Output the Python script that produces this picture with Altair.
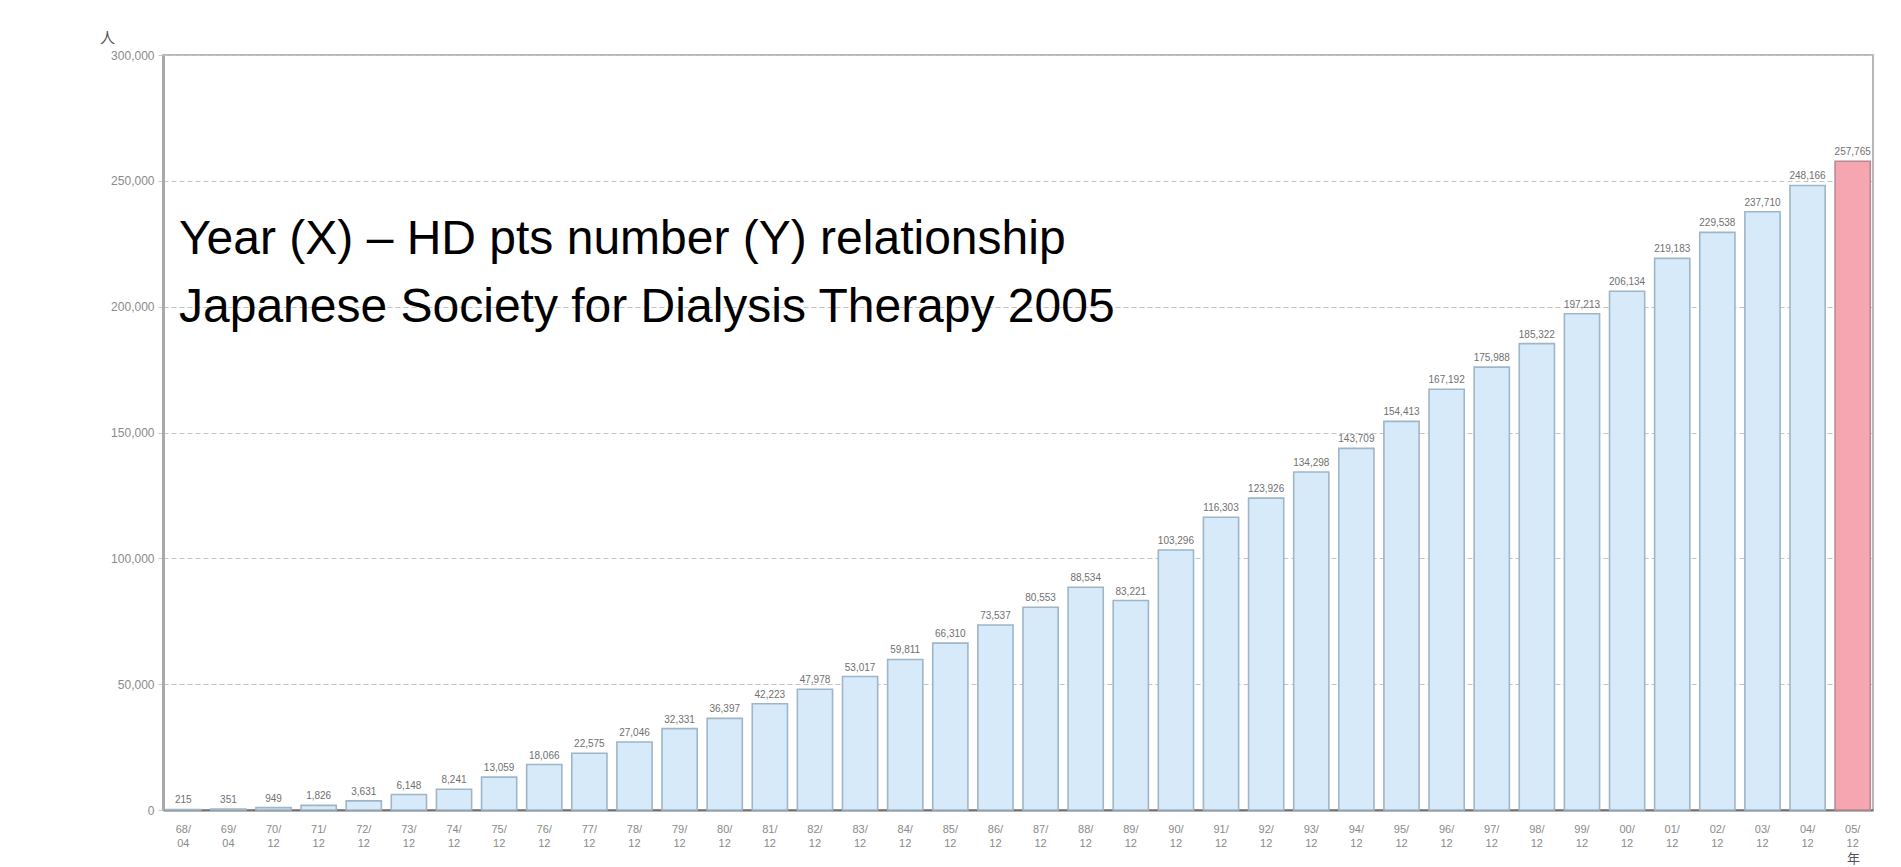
import altair as alt
import pandas as pd

# ---- data ----
years = ["68/04", "69/04", "70/12", "71/12", "72/12", "73/12", "74/12", "75/12",
         "76/12", "77/12", "78/12", "79/12", "80/12", "81/12", "82/12", "83/12",
         "84/12", "85/12", "86/12", "87/12", "88/12", "89/12", "90/12", "91/12",
         "92/12", "93/12", "94/12", "95/12", "96/12", "97/12", "98/12", "99/12",
         "00/12", "01/12", "02/12", "03/12", "04/12", "05/12"]
patients = [215, 351, 949, 1826, 3631, 6148, 8241, 13059,
            18066, 22575, 27046, 32331, 36397, 42223, 47978, 53017,
            59811, 66310, 73537, 80553, 88534, 83221, 103296, 116303,
            123926, 134298, 143709, 154413, 167192, 175988, 185322, 197213,
            206134, 219183, 229538, 237710, 248166, 257765]
highlight = ["no"] * 37 + ["yes"]
title_lines = ["Year (X) \u2013 HD pts number (Y) relationship",
               "Japanese Society for Dialysis Therapy 2005"]
y_ticks = [0, 50000, 100000, 150000, 200000, 250000, 300000]

df = pd.DataFrame({"year": years, "patients": patients, "hl": highlight})

x_enc = alt.X("year:N", sort=years,
              scale=alt.Scale(paddingInner=0.22, paddingOuter=0.06),
              axis=alt.Axis(title="年", titleAngle=0, titleX=1690, titleY=48,
                            titleFontSize=13, titleFontWeight="normal", titleColor="#555",
                            titleFont="Noto Sans CJK JP", titleBaseline="middle",
                            labelAngle=0, labelFontSize=11, labelColor="#8a8a8a",
                            labelFont="Liberation Sans",
                            labelLineHeight=14, labelPadding=13,
                            labelExpr="[split(datum.label, '/')[0] + '/', split(datum.label, '/')[1]]",
                            ticks=False, domainColor="#6e6e6e", domainWidth=2, grid=False))

y_enc = alt.Y("patients:Q",
              scale=alt.Scale(domain=[0, 300000], nice=False),
              axis=alt.Axis(values=y_ticks, format=",d", title="人", titleAngle=0,
                            titleX=-56, titleY=-18, titleFontSize=15,
                            titleFontWeight="normal", titleColor="#555",
                            titleFont="Noto Sans CJK JP",
                            titleAlign="center", titleBaseline="middle",
                            labelFontSize=12, labelColor="#8a8a8a", labelPadding=4,
                            labelFont="Liberation Sans",
                            tickSize=5, tickColor="#c8c8c8",
                            domainColor="#a8a8a8", domainWidth=3,
                            grid=True, gridColor="#c4c4c4", gridDash=[5, 3], gridWidth=1.2))

base = alt.Chart(df)

bars = base.mark_bar(strokeWidth=1.6).encode(
    x=x_enc,
    y=y_enc,
    fill=alt.Fill("hl:N", scale=alt.Scale(domain=["no", "yes"], range=["#d6eaf9", "#f6a6b0"]), legend=None),
    stroke=alt.Stroke("hl:N", scale=alt.Scale(domain=["no", "yes"], range=["#9fb5c8", "#b88a92"]), legend=None),
)

labels = base.mark_text(baseline="bottom", dy=-4, fontSize=10, color="#707070",
                        font="Liberation Sans").encode(
    x=x_enc,
    y=y_enc,
    text=alt.Text("patients:Q", format=","),
)

t1 = alt.Chart(pd.DataFrame({"t": [title_lines[0]]})).mark_text(
    align="left", baseline="alphabetic", fontSize=48, font="Liberation Sans", color="#000"
).encode(x=alt.value(16), y=alt.value(199), text="t:N")

t2 = alt.Chart(pd.DataFrame({"t": [title_lines[1]]})).mark_text(
    align="left", baseline="alphabetic", fontSize=48, font="Liberation Sans", color="#000"
).encode(x=alt.value(16), y=alt.value(267), text="t:N")

chart = alt.layer(bars, labels, t1, t2).properties(
    width=1710, height=755,
    autosize=alt.AutoSizeParams(type="none"),
    padding={"left": 155, "top": 47, "right": 20, "bottom": 56},
).configure_view(stroke="#a0a0a0", strokeWidth=1.5)

chart.save("out.html", embed_options={"renderer": "svg", "actions": False})
